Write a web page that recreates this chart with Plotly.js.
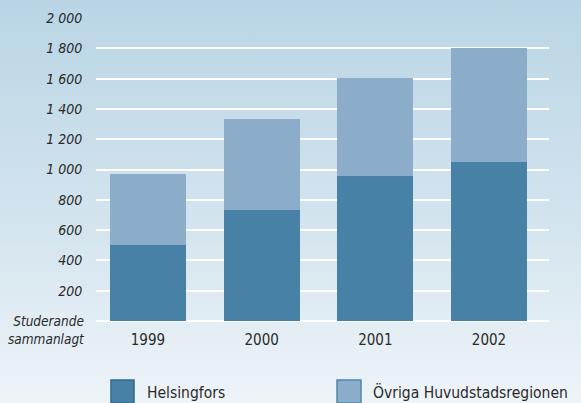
<!DOCTYPE html>
<html>
<head>
<meta charset="utf-8">
<script src="https://cdn.plot.ly/plotly-3.0.1.min.js"></script>
<style>
html,body{margin:0;padding:0;}
#chart{width:581px;height:403px;background:linear-gradient(to bottom,#b9d5e5 0%,#d3e4ee 55%,#eef4f8 100%);}
</style>
</head>
<body>
<div id="chart"></div>
<script>
var years = ['1999','2000','2001','2002'];
var helsingfors = [500, 735, 958, 1050];
var ovriga = [470, 600, 647, 755];
var seriesNames = ['Helsingfors','Övriga Huvudstadsregionen'];
var tickVals = [0,200,400,600,800,1000,1200,1400,1600,1800,2000];
var tickText = ['','200','400','600','800','1 000','1 200','1 400','1 600','1 800','2 000'];
var axisLabel = 'Studerande<br>sammanlagt';

var colDark = '#4881a6';
var colLight = '#8badc9';
var font = "'DejaVu Sans Condensed','Liberation Sans Narrow','Open Sans',sans-serif";

var traces = [
  {type:'bar', x:years, y:helsingfors, name:seriesNames[0], marker:{color:colDark, line:{width:0}}, hoverinfo:'y'},
  {type:'bar', x:years, y:ovriga, name:seriesNames[1], marker:{color:colLight, line:{width:0}}, hoverinfo:'y'}
];

var layout = {
  width:581, height:403,
  margin:{l:96, r:32, t:18, b:82},
  paper_bgcolor:'rgba(0,0,0,0)',
  plot_bgcolor:'rgba(0,0,0,0)',
  barmode:'stack',
  bargap:0.33,
  showlegend:false,
  xaxis:{
    type:'category',
    range:[-0.457, 3.528],
    showgrid:false, zeroline:false, showline:false,
    ticks:'outside', ticklen:5, tickcolor:'rgba(0,0,0,0)',
    tickfont:{family:font, size:15, color:'#2a2a2a'}
  },
  yaxis:{
    range:[0,2000],
    tickvals:tickVals, ticktext:tickText,
    showgrid:true, gridcolor:'#ffffff', gridwidth:2,
    zeroline:true, zerolinecolor:'#ffffff', zerolinewidth:2,
    showline:false,
    ticks:'outside', ticklen:10, tickcolor:'rgba(0,0,0,0)',
    tickfont:{family:font, size:14, color:'#2a2a2a', style:'italic'}
  },
  shapes:[
    {type:'rect', xref:'paper', yref:'paper', x0:0.0331, x1:0.0839, y0:-0.2706, y1:-0.1947, fillcolor:colDark, line:{color:'#336a91', width:1.5}},
    {type:'rect', xref:'paper', yref:'paper', x0:0.532, x1:0.585, y0:-0.2706, y1:-0.1947, fillcolor:colLight, line:{color:'#4f88ad', width:1.5}}
  ],
  annotations:[
    {xref:'paper', yref:'paper', x:-0.02, y:0.033, xanchor:'right', yanchor:'top', align:'right', showarrow:false,
     text:axisLabel, font:{family:font, size:13.5, color:'#2a2a2a', style:'italic'}},
    {xref:'paper', yref:'paper', x:0.108, y:-0.2376, xanchor:'left', yanchor:'middle', showarrow:false,
     text:seriesNames[0], font:{family:font, size:15.5, color:'#2a2a2a'}},
    {xref:'paper', yref:'paper', x:0.607, y:-0.2376, xanchor:'left', yanchor:'middle', showarrow:false,
     text:seriesNames[1], font:{family:font, size:15.5, color:'#2a2a2a'}}
  ]
};

Plotly.newPlot('chart', traces, layout, {displayModeBar:false, staticPlot:true});
</script>
</body>
</html>
